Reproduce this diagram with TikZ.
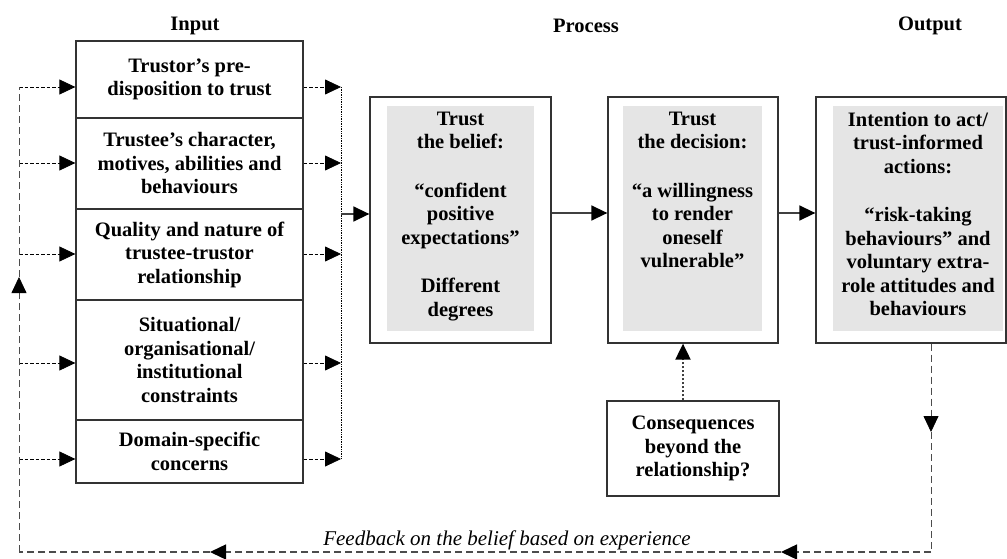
\documentclass[tikz,border=0pt]{standalone}
\usepackage{fontspec}
\setmainfont{Liberation Serif}
\usetikzlibrary{arrows.meta,positioning}

\begin{document}
\begin{tikzpicture}
  [x=1pt,y=-1pt,>={Triangle[length=16pt,width=15pt,color=black]},
   every node/.style={font=\bfseries\fontsize{20.5}{23.5}\selectfont,align=center,inner sep=0pt},
   inbox/.style={draw=black!80,line width=1.3pt,minimum width=227pt},
   outerbox/.style={draw=black!80,line width=1.3pt},
   shade/.style={fill=black!10},
   tick/.style={line width=0.8pt,dash pattern=on 3.5pt off 2pt},
   collect/.style={line width=0.7pt,densely dotted},
   flow/.style={draw=black!75,line width=1.5pt},
   cons/.style={draw=black!75,line width=2pt,dash pattern=on 2pt off 2pt},
   feed/.style={draw=black!70,line width=1.4pt,dash pattern=on 7pt off 4pt},
   feedthin/.style={draw=black!70,line width=0.8pt,dash pattern=on 7pt off 4pt}]
  \useasboundingbox (0,0) rectangle (1007,559);

  % column titles
  \node (tin)  at (195,26) {Input};
  \node (tpro) at (586,26) {Process};
  \node (tout) at (930,26) {Output};

  % input column
  \node[inbox,minimum height=77pt]  (in1) at (189.5,79.5)  {Trustor’s pre-\\disposition to trust};
  \node[inbox,minimum height=91pt]  (in2) at (189.5,163.5) {Trustee’s character,\\motives, abilities and\\behaviours};
  \node[inbox,minimum height=91pt]  (in3) at (189.5,254.5) {Quality and nature of\\trustee-trustor\\relationship};
  \node[inbox,minimum height=120pt] (in4) at (189.5,360)   {Situational/\\organisational/\\institutional\\constraints};
  \node[inbox,minimum height=63pt]  (in5) at (189.5,451.5) {Domain-specific\\concerns};

  % process boxes
  \node[outerbox,minimum width=181pt,minimum height=246pt] (b1) at (460.5,220) {};
  \node[shade,minimum width=147pt,minimum height=225pt] (g1) at (460.5,218.5) {};
  \node[below=6pt of g1.north] (t1) {Trust\\the belief:\\[25pt]“confident\\positive\\expectations”\\[25pt]Different\\degrees};

  \node[outerbox,minimum width=170pt,minimum height=246pt] (b2) at (693,220) {};
  \node[shade,minimum width=139pt,minimum height=225pt] (g2) at (692.5,218.5) {};
  \node[below=6pt of g2.north] (t2) {Trust\\the decision:\\[25pt]“a willingness\\to render\\oneself\\vulnerable”};

  \node[outerbox,minimum width=190pt,minimum height=246pt] (b3) at (911,220) {};
  \node[shade,minimum width=170pt,minimum height=225pt] (g3) at (918,218.5) {};
  \node[below=6pt of g3.north] (t3) {Intention to act/\\trust-informed\\actions:\\[25pt]“risk-taking\\behaviours” and\\voluntary extra-\\role attitudes and\\behaviours};

  \node[outerbox,minimum width=172pt,minimum height=95pt] (cq) at (693,448.5) {Consequences\\beyond the\\relationship?};

  \node[font=\itshape\fontsize{21}{24}\selectfont] (fbtext) at (507,540) {Feedback on the belief based on experience};

  % input arrows in and out
  \foreach \i/\y in {1/87,2/163,3/254,4/363,5/459} {
    \coordinate (l\i) at (19,\y);
    \coordinate (r\i) at (341,\y);
    \draw[tick,->] (l\i) -- (l\i -| in\i.west);
    \draw[tick,->] (r\i -| in\i.east) -- (r\i);
  }
  \draw[collect] (r1) -- (r5);
  \coordinate (rm) at (341,214);
  \draw[flow,->] (rm) -- (rm -| b1.west);

  % process flow
  \draw[flow,->] ([yshift=7pt]b1.east) -- ([yshift=7pt]b2.west);
  \draw[flow,->] ([yshift=7pt]b2.east) -- ([yshift=7pt]b3.west);
  \draw[cons,->] ([xshift=-10pt]cq.north) -- ([xshift=-10pt]b2.south);

  % feedback loop
  \coordinate (o1) at (931,432);
  \coordinate (o2) at (931,552);
  \coordinate (f1) at (781,552);
  \coordinate (f2) at (210,552);
  \coordinate (f3) at (19,552);
  \coordinate (f4) at (19,277);
  \draw[feedthin,->] (b3.south -| o1) -- (o1);
  \draw[feedthin] (o1) -- (o2);
  \draw[feed,->] (o2) -- (f1);
  \draw[feed,->] (f1) -- (f2);
  \draw[feed] (f2) -- (f3);
  \draw[feedthin,->] (f3) -- (f4);
  \draw[feedthin] (f4) -- (l1);

\end{tikzpicture}
\end{document}
